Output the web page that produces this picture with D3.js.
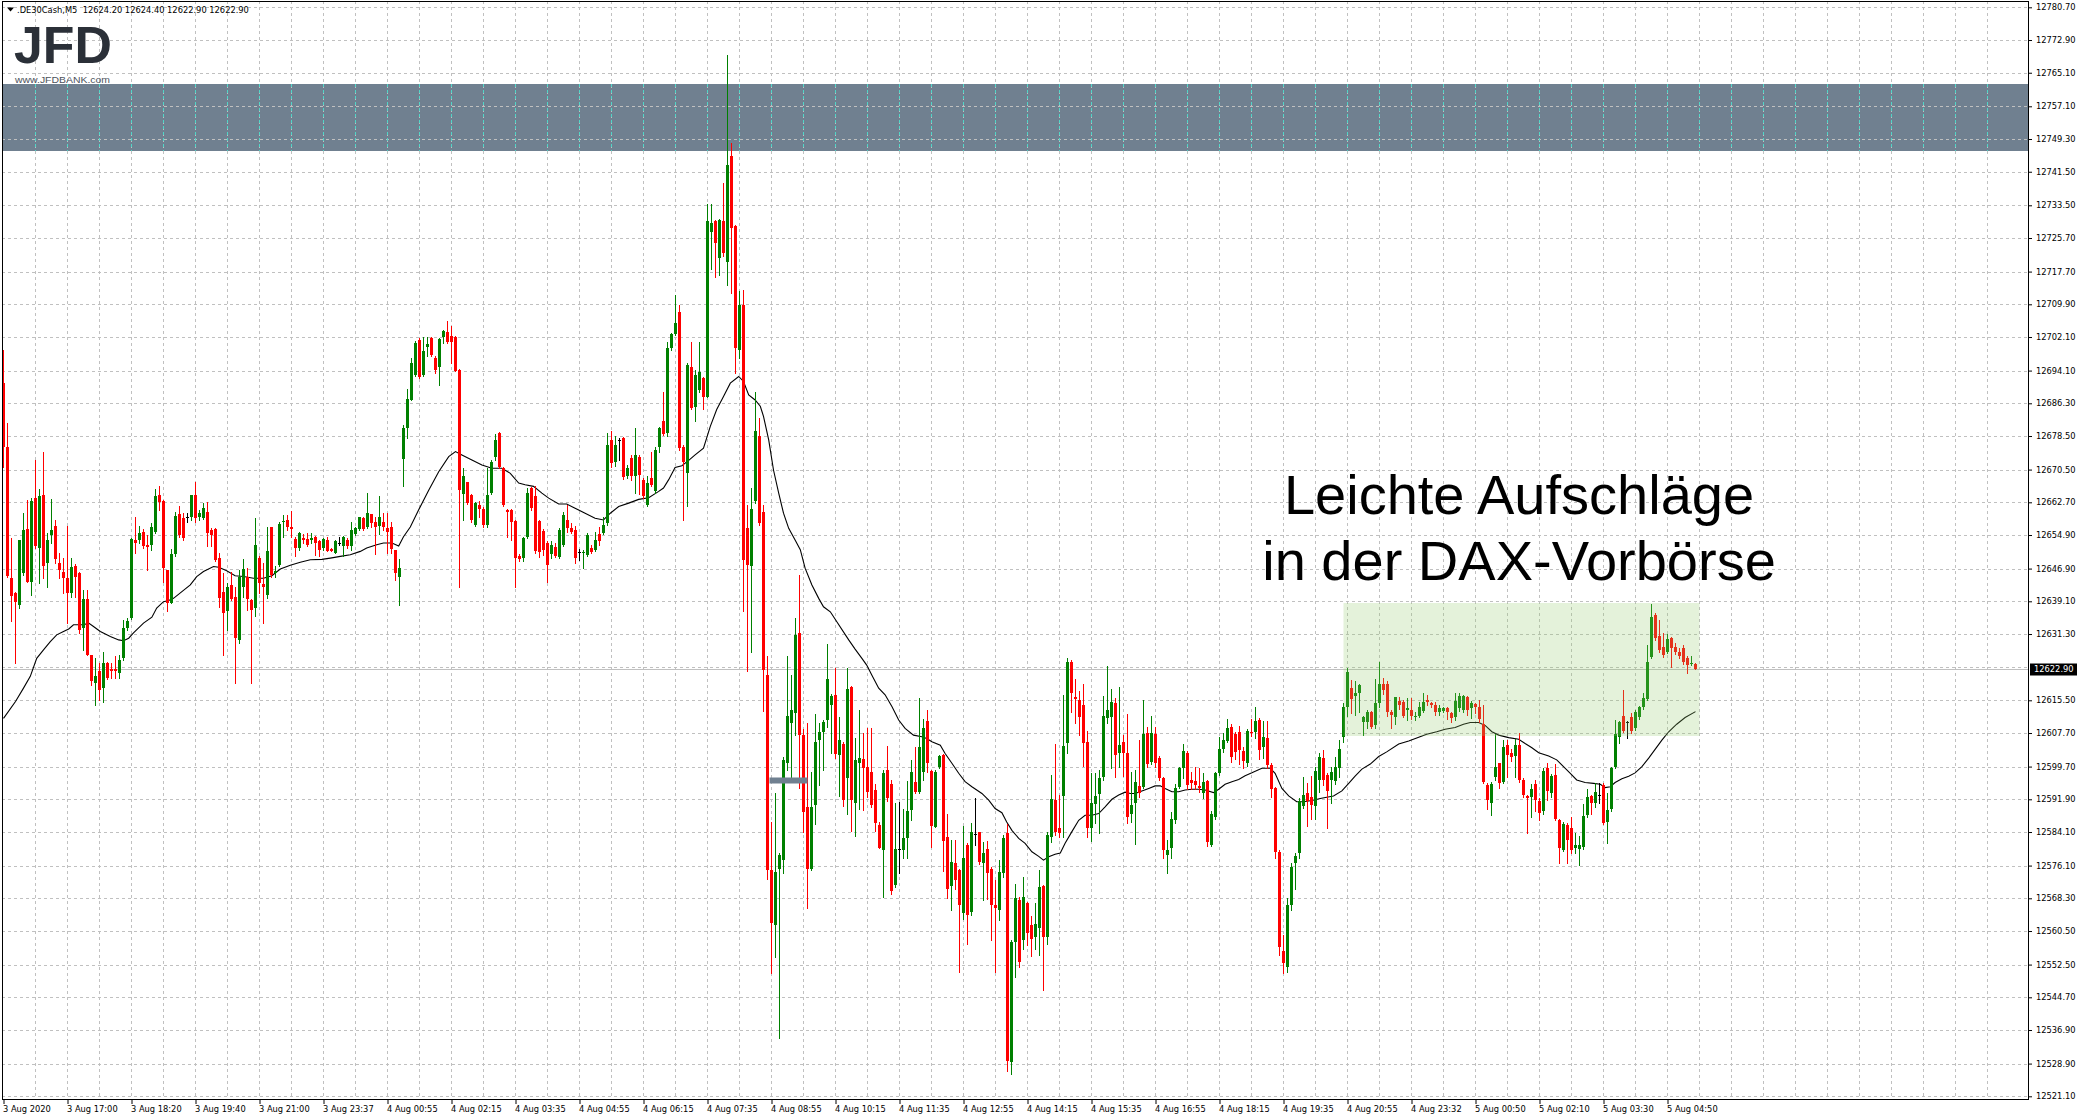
<!DOCTYPE html>
<html><head><meta charset="utf-8">
<script src="https://cdnjs.cloudflare.com/ajax/libs/d3/7.8.5/d3.min.js"></script>
<style>
html,body{margin:0;padding:0;background:#fff;overflow:hidden;}
svg{display:block;}
.small{font-family:'DejaVu Sans',Verdana,sans-serif;font-size:8.3px;fill:#000;}
</style></head><body>
<svg id="chart" width="2079" height="1120"></svg>
<script>
// ---------------- DATA ----------------
const symbolName = ".DE30Cash,M5";
const lastQuote = ["12624.20","12624.40","12622.90","12622.90"];

const open = [
12691.1,12676.0,12644.6,12641.0,12638.2,12645.8,12656.4,12643.8,12663.7,12651.8,
12664.5,12648.2,12654.9,12657.1,12648.2,12646.2,12644.6,12641.0,12647.6,12645.8,
12632.7,12639.6,12626.3,12619.6,12622.4,12618.4,12624.5,12622.9,12622.9,12622.1,
12625.5,12632.7,12635.1,12653.6,12653.8,12655.7,12652.5,12652.5,12655.7,12664.4,
12662.9,12646.6,12638.8,12650.4,12659.9,12658.9,12659.3,12659.2,12664.5,12659.2,
12658.9,12660.5,12656.1,12656.3,12649.4,12641.4,12636.7,12643.0,12640.2,12629.9,
12642.5,12645.0,12639.4,12637.5,12649.4,12643.3,12640.6,12656.8,12645.9,12647.8,
12657.9,12658.5,12656.8,12654.0,12651.8,12654.1,12653.9,12653.6,12654.5,12653.4,
12651.8,12653.6,12651.5,12650.7,12653.1,12652.4,12653.8,12652.2,12655.2,12656.3,
12658.9,12656.9,12660.0,12658.1,12657.1,12657.9,12656.5,12656.8,12651.4,12644.8,
12673.0,12680.4,12687.1,12693.1,12701.5,12693.1,12699.7,12701.9,12697.1,12694.9,
12702.0,12703.2,12702.4,12702.2,12694.3,12664.7,12667.5,12664.5,12657.3,12662.1,
12661.1,12657.3,12665.0,12673.6,12679.3,12670.8,12660.9,12660.9,12658.3,12650.0,
12649.4,12654.5,12666.1,12664.1,12658.3,12655.9,12653.0,12650.4,12652.1,12649.6,
12652.5,12658.5,12656.5,12656.1,12650.9,12650.5,12650.2,12651.7,12651.4,12655.1,
12655.3,12657.7,12677.6,12672.4,12677.6,12678.0,12668.9,12673.2,12668.9,12673.6,
12668.1,12662.1,12668.5,12665.3,12675.9,12682.0,12679.2,12699.4,12702.9,12708.0,
12676.0,12669.6,12694.9,12685.5,12689.5,12692.3,12687.9,12727.1,12729.7,12720.9,
12729.7,12720.1,12745.2,12728.5,12699.1,12709.8,12656.5,12647.4,12662.9,12678.6,
12660.5,12621.5,12575.0,12561.9,12575.4,12577.4,12600.5,12610.0,12612.4,12631.5,
12607.2,12590.1,12575.4,12590.5,12606.0,12608.0,12610.8,12614.4,12616.8,12602.4,
12605.1,12596.9,12618.6,12590.9,12600.5,12601.4,12599.5,12598.3,12594.1,12585.7,
12579.9,12598.9,12595.5,12571.4,12580.0,12579.9,12582.6,12589.3,12596.1,12593.7,
12598.5,12610.6,12598.7,12585.3,12599.5,12602.4,12582.8,12571.2,12576.6,12575.0,
12564.7,12581.0,12565.1,12583.6,12584.0,12576.6,12580.0,12575.4,12566.7,12565.6,
12574.4,12583.8,12529.3,12557.9,12568.0,12558.3,12567.2,12561.9,12559.0,12561.3,
12571.2,12559.0,12583.0,12591.7,12585.0,12592.7,12605.4,12624.7,12616.3,12615.6,
12614.4,12605.6,12585.0,12590.8,12593.1,12597.1,12611.2,12611.6,12614.9,12602.9,
12605.6,12602.9,12588.5,12591.1,12595.1,12594.9,12607.6,12600.9,12607.5,12601.7,
12596.9,12578.6,12580.4,12586.9,12594.9,12599.3,12603.0,12596.5,12596.3,12595.1,
12593.5,12596.3,12581.0,12587.7,12598.2,12603.8,12605.9,12609.2,12607.5,12608.0,
12603.5,12600.5,12608.0,12608.0,12610.9,12604.4,12606.6,12600.1,12594.5,12579.4,
12555.8,12552.0,12566.7,12576.6,12579.0,12590.3,12593.3,12592.4,12590.3,12596.6,
12601.7,12597.7,12596.5,12596.3,12599.3,12606.8,12613.8,12618.4,12616.5,12617.2,
12610.4,12610.4,12612.6,12609.6,12614.8,12619.5,12619.4,12612.6,12611.4,12615.4,
12615.2,12613.2,12613.3,12611.4,12611.8,12613.0,12615.6,12614.8,12614.4,12612.8,
12613.0,12613.6,12612.4,12611.4,12613.6,12613.2,12616.2,12613.6,12614.6,12614.0,
12609.8,12595.3,12591.1,12597.1,12600.5,12596.1,12604.8,12603.0,12602.2,12604.8,
12596.6,12592.7,12592.5,12595.5,12591.6,12589.2,12599.3,12593.3,12597.7,12586.9,
12579.9,12585.8,12585.0,12580.2,12580.0,12580.6,12588.1,12592.7,12591.1,12592.9,
12595.3,12586.5,12589.5,12599.7,12606.8,12611.8,12610.4,12611.4,12608.8,12611.4,
12613.8,12615.7,12625.9,12635.9,12630.8,12628.3,12627.1,12630.3,12628.3,12626.9,
12627.9,12625.7,12624.2,12624.2];

const high = [
12699.1,12681.6,12654.1,12641.4,12653.6,12660.1,12663.3,12663.7,12672.7,12665.9,
12674.8,12655.3,12663.5,12658.5,12650.7,12649.4,12657.1,12649.4,12648.0,12646.0,
12641.8,12641.8,12626.3,12625.5,12624.3,12627.1,12624.7,12624.3,12626.1,12626.3,
12634.7,12635.1,12654.1,12659.1,12657.1,12656.4,12654.9,12657.7,12665.9,12666.7,
12663.3,12646.6,12651.6,12660.5,12661.7,12660.1,12660.1,12664.5,12667.5,12660.9,
12662.5,12662.7,12656.5,12656.5,12650.6,12645.8,12643.4,12646.0,12642.6,12646.6,
12649.1,12647.0,12639.6,12658.9,12649.8,12648.2,12656.8,12656.9,12647.4,12657.9,
12659.7,12659.7,12660.7,12654.5,12655.7,12655.1,12655.3,12655.3,12654.7,12653.8,
12654.3,12654.4,12651.8,12653.8,12654.5,12654.7,12654.1,12658.1,12656.9,12659.3,
12659.3,12664.9,12660.0,12659.3,12664.3,12660.1,12660.1,12657.9,12651.4,12649.1,
12681.2,12689.7,12697.1,12701.1,12701.9,12702.2,12702.2,12702.0,12697.5,12701.9,
12703.8,12706.0,12704.8,12702.4,12694.5,12670.9,12667.6,12664.7,12662.7,12662.9,
12661.5,12670.9,12672.8,12678.9,12679.4,12671.2,12661.1,12661.1,12658.5,12650.4,
12654.5,12666.1,12666.4,12666.6,12658.5,12656.3,12653.5,12653.5,12653.0,12656.5,
12660.5,12662.1,12657.7,12657.0,12651.5,12651.3,12655.5,12652.5,12655.7,12656.9,
12659.3,12679.2,12679.6,12678.4,12678.0,12678.2,12671.6,12674.0,12680.4,12674.0,
12668.5,12668.9,12674.8,12676.0,12680.6,12689.1,12700.8,12703.0,12712.2,12709.8,
12676.4,12695.9,12700.8,12694.3,12700.8,12692.5,12733.7,12733.7,12730.1,12730.3,
12738.8,12769.4,12748.4,12728.9,12713.0,12713.4,12662.1,12666.1,12689.1,12682.8,
12662.1,12626.1,12586.5,12593.3,12579.1,12601.9,12626.1,12621.5,12635.0,12645.4,
12608.6,12610.2,12598.5,12612.2,12610.2,12610.9,12628.9,12617.0,12623.1,12611.6,
12605.5,12623.1,12619.0,12606.4,12613.2,12607.6,12608.8,12609.0,12595.5,12586.5,
12599.0,12604.6,12596.5,12591.1,12591.3,12589.5,12596.3,12601.3,12604.4,12616.0,
12611.0,12613.2,12599.0,12598.9,12602.5,12602.6,12588.5,12582.2,12582.2,12575.4,
12585.5,12581.4,12586.3,12592.1,12584.2,12581.8,12581.9,12575.8,12572.6,12577.4,
12583.5,12586.1,12558.3,12571.7,12568.5,12573.3,12567.5,12564.0,12567.1,12575.0,
12571.5,12584.2,12597.7,12605.1,12592.9,12616.8,12625.5,12625.0,12620.5,12617.6,
12619.5,12608.3,12598.2,12598.1,12598.9,12616.5,12623.7,12618.3,12616.0,12618.7,
12607.2,12612.2,12598.5,12598.9,12606.0,12615.6,12609.2,12611.7,12609.2,12602.2,
12597.3,12582.2,12588.9,12595.5,12599.7,12605.1,12603.3,12598.5,12599.7,12599.3,
12598.2,12596.5,12589.0,12598.5,12606.8,12607.8,12611.0,12609.8,12608.0,12609.4,
12604.4,12608.6,12611.0,12613.8,12611.2,12610.6,12610.6,12600.5,12594.9,12579.8,
12559.5,12568.3,12576.6,12579.0,12592.1,12597.1,12595.7,12597.4,12599.5,12603.0,
12603.6,12598.1,12599.5,12602.1,12606.0,12614.9,12623.1,12620.3,12620.0,12619.4,
12611.8,12613.2,12613.0,12620.5,12624.7,12620.7,12620.1,12613.2,12616.4,12616.2,
12615.5,12616.0,12616.0,12612.8,12615.2,12617.2,12616.8,12615.2,12615.0,12614.4,
12613.8,12614.0,12612.8,12617.2,12617.2,12616.8,12616.5,12615.4,12614.9,12615.6,
12614.4,12595.7,12596.1,12607.5,12600.6,12606.0,12606.0,12604.0,12606.2,12607.8,
12597.0,12593.0,12595.5,12596.5,12592.1,12599.3,12600.6,12597.9,12600.3,12587.3,
12586.5,12586.2,12587.6,12583.9,12583.1,12590.8,12594.3,12593.0,12595.8,12595.8,
12595.7,12593.3,12599.7,12610.8,12610.6,12617.9,12610.6,12612.4,12613.3,12614.1,
12617.3,12628.7,12638.5,12636.2,12634.7,12631.5,12631.3,12630.6,12629.1,12627.9,
12628.7,12626.1,12626.1,12624.4];

const low = [
12671.2,12645.0,12634.3,12624.5,12637.4,12645.4,12643.8,12640.6,12651.8,12643.4,
12644.6,12642.5,12652.9,12648.2,12644.6,12641.0,12633.9,12640.2,12640.2,12631.5,
12627.4,12626.3,12619.2,12614.4,12615.6,12615.2,12620.5,12620.7,12620.7,12620.7,
12625.1,12632.3,12634.8,12650.6,12653.0,12651.8,12646.6,12651.4,12655.3,12660.9,
12643.8,12636.9,12638.6,12649.8,12654.5,12653.8,12657.9,12658.5,12658.1,12658.5,
12658.7,12652.2,12652.2,12648.6,12637.8,12626.3,12632.3,12639.4,12619.6,12629.1,
12640.2,12637.1,12619.7,12635.5,12641.0,12634.0,12639.8,12645.0,12645.0,12647.4,
12654.5,12656.1,12654.5,12650.0,12651.4,12653.0,12652.2,12653.0,12650.2,12649.8,
12651.4,12651.0,12651.0,12650.6,12652.5,12650.0,12651.8,12651.4,12655.0,12656.1,
12656.1,12656.5,12656.8,12650.4,12655.2,12656.1,12650.6,12650.7,12644.2,12638.1,
12666.7,12678.0,12687.0,12692.7,12692.3,12692.9,12697.5,12697.5,12693.5,12690.7,
12700.7,12700.7,12695.9,12693.9,12642.6,12658.5,12662.3,12658.1,12657.0,12659.3,
12656.9,12656.8,12664.7,12672.8,12670.8,12661.9,12654.5,12653.7,12642.6,12648.8,
12648.6,12654.3,12660.9,12650.6,12649.6,12650.2,12643.8,12649.4,12649.6,12649.5,
12652.2,12655.7,12655.3,12648.2,12649.0,12647.0,12649.8,12650.5,12651.0,12652.5,
12655.1,12657.3,12671.2,12671.4,12672.8,12668.2,12668.5,12667.9,12664.9,12664.7,
12663.7,12661.9,12666.5,12664.9,12674.8,12678.8,12678.4,12699.1,12702.6,12675.2,
12658.5,12661.9,12684.9,12682.0,12689.1,12684.9,12687.8,12718.2,12716.4,12717.0,
12721.5,12714.6,12712.6,12693.5,12697.1,12636.9,12622.6,12626.9,12662.5,12657.3,
12613.0,12573.0,12550.5,12554.3,12534.9,12574.4,12598.9,12597.3,12607.2,12594.5,
12584.2,12565.9,12575.0,12586.1,12595.3,12598.9,12609.2,12603.0,12601.7,12592.7,
12590.3,12588.5,12584.4,12583.2,12589.7,12589.3,12592.5,12590.1,12584.4,12580.2,
12568.5,12591.5,12569.3,12571.0,12574.4,12578.0,12578.0,12586.9,12593.3,12593.5,
12596.5,12598.5,12580.6,12585.2,12599.3,12574.9,12568.3,12565.6,12570.6,12550.8,
12563.4,12557.5,12564.3,12581.0,12576.5,12567.9,12568.2,12558.3,12550.8,12563.1,
12573.3,12527.1,12526.5,12549.6,12552.0,12556.1,12557.1,12554.5,12556.3,12554.7,
12546.4,12557.4,12581.8,12583.4,12583.0,12583.0,12603.0,12612.6,12610.0,12607.2,
12599.8,12583.0,12582.0,12586.3,12583.9,12596.6,12610.0,12599.3,12597.1,12599.7,
12597.4,12586.3,12586.5,12581.2,12592.5,12594.5,12599.5,12600.3,12599.7,12596.6,
12577.8,12574.4,12577.8,12586.3,12594.5,12596.9,12594.3,12594.3,12594.3,12593.7,
12592.1,12580.7,12580.7,12587.3,12597.7,12603.2,12605.6,12600.9,12601.4,12600.4,
12599.3,12599.8,12607.0,12606.5,12601.4,12601.7,12599.3,12592.5,12578.0,12554.7,
12550.4,12550.8,12565.6,12570.4,12578.0,12589.8,12585.5,12587.1,12587.3,12593.7,
12595.2,12585.0,12590.9,12595.5,12597.3,12605.5,12611.8,12612.4,12612.0,12612.8,
12607.2,12609.0,12608.8,12609.0,12614.0,12617.0,12611.8,12608.8,12609.8,12613.5,
12611.6,12610.8,12611.0,12610.8,12611.4,12612.6,12614.4,12614.0,12612.0,12612.0,
12612.6,12611.0,12610.4,12610.8,12613.0,12612.8,12612.0,12611.2,12612.4,12610.4,
12595.7,12589.5,12588.1,12596.6,12594.7,12595.7,12597.1,12601.0,12597.1,12596.0,
12592.5,12583.8,12587.6,12589.2,12586.9,12588.4,12591.7,12592.5,12586.9,12576.8,
12579.6,12576.6,12579.1,12579.1,12576.2,12580.0,12587.6,12588.4,12590.0,12591.0,
12586.0,12581.4,12589.0,12599.3,12605.4,12608.0,12606.4,12607.8,12608.4,12611.0,
12613.4,12615.6,12625.5,12629.9,12627.0,12625.8,12626.7,12623.4,12626.5,12625.7,
12624.1,12621.9,12623.8,12622.9];

const close = [
12676.0,12645.2,12640.4,12639.0,12653.6,12656.1,12643.8,12662.9,12652.3,12664.1,
12647.4,12653.6,12656.1,12649.2,12646.6,12644.6,12641.0,12647.2,12645.0,12632.3,
12639.6,12626.3,12620.2,12621.2,12618.0,12624.5,12620.7,12622.4,12622.4,12625.1,
12632.7,12634.5,12653.9,12653.1,12655.5,12652.3,12652.0,12656.9,12664.1,12662.7,
12647.0,12638.8,12650.4,12659.5,12654.9,12654.1,12659.3,12664.5,12658.9,12660.1,
12661.3,12655.3,12654.9,12649.0,12639.8,12636.4,12642.6,12639.6,12630.3,12645.0,
12646.8,12639.6,12637.1,12652.6,12643.4,12642.5,12651.2,12645.4,12646.4,12657.6,
12658.3,12656.9,12656.3,12651.8,12655.3,12653.8,12652.5,12654.1,12653.0,12651.4,
12653.9,12651.2,12651.2,12653.4,12653.1,12654.4,12652.2,12656.0,12656.5,12659.2,
12656.4,12660.1,12657.7,12656.9,12659.2,12656.9,12655.7,12651.5,12645.8,12647.1,
12680.4,12687.4,12695.9,12700.7,12692.5,12698.7,12700.5,12697.9,12694.3,12701.7,
12703.6,12701.0,12700.8,12694.0,12665.7,12668.9,12662.5,12658.5,12662.5,12661.1,
12657.3,12664.5,12672.4,12677.6,12671.2,12662.1,12660.3,12657.9,12649.4,12649.3,
12654.1,12664.9,12661.3,12651.0,12650.9,12651.4,12647.8,12652.5,12649.8,12656.1,
12659.7,12656.5,12655.7,12649.4,12650.9,12650.9,12654.8,12650.9,12653.8,12653.4,
12657.3,12676.4,12672.0,12676.4,12677.6,12668.7,12670.9,12668.9,12674.0,12669.3,
12664.1,12667.3,12666.9,12675.2,12680.4,12679.0,12699.4,12702.9,12705.4,12675.6,
12672.4,12695.5,12685.2,12693.1,12693.7,12687.8,12729.7,12729.3,12724.4,12730.1,
12722.1,12743.2,12728.1,12699.5,12709.8,12649.0,12647.8,12661.0,12679.6,12657.7,
12622.7,12575.0,12562.5,12574.6,12578.6,12601.3,12611.7,12613.3,12631.1,12607.2,
12588.9,12575.4,12590.1,12605.6,12608.0,12610.4,12620.5,12616.5,12602.7,12606.0,
12591.7,12618.1,12591.7,12601.3,12601.7,12599.3,12593.7,12590.5,12586.3,12580.3,
12598.2,12592.3,12570.1,12580.0,12580.0,12582.6,12589.2,12598.5,12593.7,12604.4,
12609.0,12600.5,12585.5,12598.5,12602.2,12582.0,12570.6,12577.0,12572.6,12566.7,
12577.8,12564.3,12584.2,12583.6,12577.0,12579.0,12574.4,12566.7,12565.9,12574.6,
12582.6,12529.5,12557.9,12568.3,12553.1,12568.5,12560.1,12558.5,12562.1,12571.0,
12559.0,12583.4,12591.9,12584.2,12583.9,12604.6,12624.7,12617.3,12615.7,12611.6,
12605.4,12585.0,12591.1,12592.7,12597.0,12611.7,12613.2,12615.2,12602.4,12604.8,
12602.9,12587.6,12590.5,12596.1,12593.5,12607.5,12600.3,12607.6,12600.5,12596.9,
12579.8,12579.9,12587.3,12594.5,12599.3,12603.5,12595.3,12595.8,12595.3,12594.5,
12596.1,12581.8,12588.4,12598.2,12603.8,12606.0,12608.8,12602.0,12603.2,12603.6,
12601.1,12608.3,12607.6,12610.6,12603.6,12606.8,12600.1,12594.3,12579.4,12556.7,
12552.8,12566.7,12575.8,12578.4,12591.6,12592.9,12591.6,12590.5,12598.7,12602.1,
12596.6,12593.9,12598.5,12599.5,12604.0,12614.0,12622.3,12615.7,12617.2,12619.2,
12611.4,12612.8,12609.2,12614.8,12619.4,12618.0,12612.6,12612.0,12616.2,12614.4,
12611.8,12613.6,12611.8,12611.8,12614.0,12615.2,12615.0,12614.4,12612.6,12613.6,
12613.6,12612.6,12611.2,12615.4,12616.5,12616.5,12613.3,12614.8,12613.8,12611.0,
12596.1,12591.7,12595.5,12599.7,12595.9,12604.4,12602.4,12601.9,12604.8,12596.6,
12592.9,12592.1,12594.3,12591.7,12588.7,12598.7,12593.9,12597.4,12587.3,12580.4,
12586.0,12582.3,12579.9,12581.0,12581.0,12587.9,12592.4,12591.1,12593.7,12592.9,
12586.3,12589.3,12599.3,12607.5,12610.4,12608.3,12610.4,12608.3,12612.6,12613.8,
12616.0,12624.7,12635.3,12630.3,12627.5,12626.3,12630.0,12627.9,12626.9,12626.1,
12624.7,12623.9,12624.5,12622.9];

// moving average at these bar positions
const maBar = [0,3,5,6.7,8.3,10,11.7,13.3,15,16.3,17.5,20,21.3,22.5,24.2,26.7,28.8,30,31.3,32.5,
35,37.1,38.3,40,41.3,42.5,44.6,46.7,48.3,50,52.5,53.8,55.8,57.9,60,62.5,65,67.1,69.2,71.7,
74.2,76.7,79.6,81.7,84.2,86.7,89.2,90.8,93.3,95,97.1,98.8,100,101.7,103.8,106.3,108.8,111.3,113,114.6,
117.1,119.6,122.1,124.6,126.7,128.8,130.4,132.5,134.6,136.3,138.8,140.8,142.9,145.4,147.9,150,151.7,153.8,156.3,158.8,
161.3,163.8,165,166.3,167.9,169.6,171.3,172.9,175,176.7,178.3,180,181.7,183.8,185,186.3,187.9,189.2,190,191.3,
192.5,193.8,195,196.3,197.9,199.2,200.4,202.1,203.8,205,206.7,211.3,212.9,214.6,215.8,217.1,218.8,220.4,222.1,223.8,
225.4,227.5,229.6,230.8,232.1,234.2,235.4,237.1,238.8,240.4,242.1,244.6,246.3,247.9,249.6,250.8,252.1,253.8,255.4,257.1,
258.8,260,261.3,262.9,264.2,265.4,267.1,268.8,270.4,272.1,273.8,275.4,277.1,278.8,280.4,281.7,282.9,284.6,286.3,287.9,
289.2,290.4,292.1,293.8,295.4,297.1,298.8,300.4,302.5,303.8,305.4,307.1,308.8,310.4,312.1,314.6,316.7,317.9,319.6,321.3,
323.3,325,327.1,329.2,330.8,332.5,334.6,336.3,337.9,339.6,341.7,343.8,345.8,348.8,351.3,353.8,355.8,358.3,360.4,362.9,
365,366.7,368.8,370.4,372.1,373.8,376.3,378.8,380.4,382.1,383.8,386.3,388.3,390,391.7,393.3,395.4,397.5,399.2,400.4,
401.7,402.9,404.6,406.3,407.9,409.6,411.3,412.9,414.6,416.3,418.3,420.4,423];
const maVal = [12611.2,12615.2,12618.4,12621.2,12625.5,12627.5,12629.5,12631.1,12631.9,12632.5,12633.5,12633.5,12633.9,12633.1,12631.9,12630.7,12629.9,12629.7,12630.3,12631.6,
12633.9,12635.3,12637.5,12639.0,12639.3,12639.8,12641.4,12643.0,12645.0,12646.2,12647.4,12647.2,12646.4,12645.2,12645.0,12644.6,12644.6,12645.2,12646.8,12647.7,
12648.4,12649.0,12649.1,12649.4,12649.8,12650.2,12651.0,12651.8,12652.6,12653.0,12653.0,12652.3,12654.5,12656.8,12660.9,12665.6,12670.0,12673.6,12674.8,12674.0,
12672.8,12671.6,12670.8,12670.8,12669.6,12667.3,12666.9,12666.5,12664.9,12663.7,12662.3,12662.3,12661.3,12660.1,12658.9,12658.5,12660.1,12661.7,12662.5,12663.4,
12663.8,12665.3,12666.1,12668.1,12671.0,12671.4,12672.7,12674.0,12675.6,12680.8,12684.8,12687.9,12691.1,12692.7,12691.5,12688.3,12687.1,12685.6,12683.2,12677.6,
12670.4,12664.9,12660.1,12656.5,12653.7,12651.4,12647.0,12643.0,12639.8,12637.8,12636.6,12629.9,12627.7,12625.5,12623.9,12621.5,12618.4,12616.8,12614.0,12610.8,
12608.8,12607.2,12606.8,12606.4,12605.6,12604.8,12602.8,12600.5,12598.1,12596.1,12594.9,12593.3,12591.7,12589.7,12588.7,12586.5,12584.5,12582.6,12581.4,12579.4,
12578.3,12577.4,12578.2,12578.8,12579.1,12581.4,12584.2,12586.9,12588.1,12588.1,12588.5,12590.1,12591.9,12592.9,12593.6,12593.3,12593.3,12593.9,12594.5,12595.1,
12595.1,12594.5,12593.7,12593.7,12594.1,12594.3,12594.3,12594.1,12593.5,12594.3,12595.5,12596.1,12596.6,12597.5,12598.2,12599.3,12599.3,12598.1,12594.5,12592.7,
12591.3,12591.3,12591.6,12592.1,12592.4,12592.7,12593.9,12595.7,12597.4,12599.1,12600.3,12602.1,12603.2,12605.1,12605.8,12606.7,12607.4,12608.0,12608.6,12609.0,
12609.8,12610.2,12610.2,12609.5,12608.0,12607.2,12606.6,12606.2,12605.2,12604.2,12603.0,12602.2,12601.3,12599.7,12598.1,12596.5,12595.9,12595.7,12595.5,12594.7,
12594.9,12595.9,12596.8,12597.4,12598.2,12599.7,12601.7,12603.8,12606.0,12608.0,12609.8,12611.4,12612.8];

const timeLabels = ["3 Aug 2020","3 Aug 17:00","3 Aug 18:20","3 Aug 19:40","3 Aug 21:00","3 Aug 23:37",
"4 Aug 00:55","4 Aug 02:15","4 Aug 03:35","4 Aug 04:55","4 Aug 06:15","4 Aug 07:35","4 Aug 08:55",
"4 Aug 10:15","4 Aug 11:35","4 Aug 12:55","4 Aug 14:15","4 Aug 15:35","4 Aug 16:55","4 Aug 18:15",
"4 Aug 19:35","4 Aug 20:55","4 Aug 23:32","5 Aug 00:50","5 Aug 02:10","5 Aug 03:30","5 Aug 04:50"];
const barsPerTimeLabel = 16;

const priceTicks = [12780.70,12772.90,12765.10,12757.10,12749.30,12741.50,12733.50,12725.70,12717.70,
12709.90,12702.10,12694.10,12686.30,12678.50,12670.50,12662.70,12654.90,12646.90,12639.10,12631.30,
12623.40,12615.50,12607.70,12599.70,12591.90,12584.10,12576.10,12568.30,12560.50,12552.50,12544.70,
12536.90,12528.90,12521.10];
const currentPrice = 12622.90;

const resistanceZone = [12746.4, 12762.5];          // price range of the slate band
const premarketBox = [335, 424, 12607.0, 12638.8];  // bar from, bar to, low, high
const markLevel = [191.5, 201, 12596.4];            // bar from, bar to, price
const title = ["Leichte Aufschläge", "in der DAX-Vorbörse"];

// ---------------- DRAW ----------------
const W = 2079, H = 1120;
const L = 2, R = 2028, T = 1, B = 1099;
const svg = d3.select('#chart');
const x = d3.scaleLinear().domain([0, 423]).range([3.5, 1695.5]);
const y = d3.scaleLinear().domain([12521.10, 12780.70]).range([1096.3, 7.3]);
const py = v => Math.round(y(v));

svg.append('rect').attr('width', W).attr('height', H).attr('fill', '#fff');

const plot = svg.append('g');
const grey = '#c0c0c0';

// slate resistance band
const bandTop = py(resistanceZone[1]), bandBot = py(resistanceZone[0]);
plot.append('rect').attr('x', L).attr('y', bandTop).attr('width', R - L).attr('height', bandBot - bandTop)
  .attr('fill', '#708090');

// grid
const gridG = plot.append('g').attr('shape-rendering', 'crispEdges');
gridG.selectAll('line.h').data(priceTicks).join('line')
  .attr('x1', L).attr('x2', R).attr('y1', d => py(d) + 0.5).attr('y2', d => py(d) + 0.5)
  .attr('stroke', grey).attr('stroke-dasharray', '3,3');
const vBars = d3.range(8, 500, 8).filter(b => x(b) < R);
gridG.selectAll('line.v').data(vBars).join('line')
  .attr('x1', d => x(d)).attr('x2', d => x(d)).attr('y1', T).attr('y2', B)
  .attr('stroke', grey).attr('stroke-dasharray', '3,3');
gridG.selectAll('line.vb').data(vBars).join('line')
  .attr('x1', d => x(d)).attr('x2', d => x(d)).attr('y1', bandTop).attr('y2', bandBot)
  .attr('stroke', '#4fd6c8').attr('stroke-dasharray', '3,3');

// current price line
plot.append('line').attr('x1', L).attr('x2', R)
  .attr('y1', py(currentPrice) + 0.5).attr('y2', py(currentPrice) + 0.5)
  .attr('stroke', grey).attr('shape-rendering', 'crispEdges');

// moving average
const maPts = maBar.map((b, i) => [b, maVal[i]]);
plot.append('path').datum(maPts)
  .attr('d', d3.line().x(d => x(d[0])).y(d => y(d[1])))
  .attr('fill', 'none').attr('stroke', '#000').attr('stroke-width', 1.1);

// candles
const bars = open.map((o, i) => ({i, o, h: high[i], l: low[i], c: close[i]}));
const colorOf = d => Math.abs(d.c - d.o) < 0.05 ? '#000' : (d.c > d.o ? '#008000' : '#ff0000');
const cg = plot.append('g').attr('shape-rendering', 'crispEdges');
cg.selectAll('line').data(bars).join('line')
  .attr('x1', d => x(d.i)).attr('x2', d => x(d.i))
  .attr('y1', d => py(Math.max(d.h, d.o, d.c)))
  .attr('y2', d => py(Math.min(d.l, d.o, d.c)) + 1)
  .attr('stroke', colorOf);
cg.selectAll('rect').data(bars).join('rect')
  .attr('x', d => x(d.i) - 1.5).attr('width', 3)
  .attr('y', d => py(Math.max(d.o, d.c)))
  .attr('height', d => Math.max(1, py(Math.min(d.o, d.c)) - py(Math.max(d.o, d.c))))
  .attr('fill', colorOf);

// light green pre-market box (translucent, over the candles)
plot.append('rect')
  .attr('x', x(premarketBox[0])).attr('width', x(premarketBox[1]) - x(premarketBox[0]))
  .attr('y', py(premarketBox[3])).attr('height', py(premarketBox[2]) - py(premarketBox[3]))
  .attr('fill', 'rgb(147,203,107)').attr('fill-opacity', 0.25);

// slate marker segment
plot.append('line')
  .attr('x1', x(markLevel[0])).attr('x2', x(markLevel[1]))
  .attr('y1', y(markLevel[2])).attr('y2', y(markLevel[2]))
  .attr('stroke', '#708090').attr('stroke-width', 6);

// frame
const frame = svg.append('g').attr('shape-rendering', 'crispEdges').attr('stroke', '#000');
frame.append('line').attr('x1', L + 0.5).attr('x2', L + 0.5).attr('y1', T).attr('y2', B + 1);
frame.append('line').attr('x1', L).attr('x2', R + 1).attr('y1', T + 0.5).attr('y2', T + 0.5);
frame.append('line').attr('x1', R + 0.5).attr('x2', R + 0.5).attr('y1', T).attr('y2', B + 1);
frame.append('line').attr('x1', L).attr('x2', R + 1).attr('y1', B + 0.5).attr('y2', B + 0.5);

// right price axis
const labelTicks = priceTicks.filter(v => Math.abs(y(v) - y(currentPrice)) > 8);
const ay = svg.append('g').attr('transform', `translate(${R + 1},0)`)
  .call(d3.axisRight(y).tickValues(labelTicks).tickSize(3).tickPadding(4).tickFormat(d => d.toFixed(2)));
ay.select('.domain').remove();
ay.selectAll('.tick line').attr('stroke', '#000');
ay.attr('font-size', null).attr('font-family', null);
ay.selectAll('text').attr('class', 'small');

// current price tag
const cpy = py(currentPrice) + 0.5;
svg.append('rect').attr('x', R + 2).attr('y', cpy - 6).attr('width', 47).attr('height', 12).attr('fill', '#000');
svg.append('text').attr('class', 'small').attr('x', R + 6).attr('y', cpy).attr('dy', '0.35em')
  .style('fill', '#fff').text(currentPrice.toFixed(2));

// bottom time axis
const tBars = timeLabels.map((_, k) => k * barsPerTimeLabel);
const ax = svg.append('g').attr('transform', `translate(0,${B + 1})`)
  .call(d3.axisBottom(x).tickValues(tBars).tickSize(4).tickPadding(2).tickFormat((d, k) => timeLabels[k]));
ax.select('.domain').remove();
ax.selectAll('.tick line').attr('stroke', '#000');
ax.attr('font-size', null).attr('font-family', null);
ax.selectAll('text').attr('class', 'small').attr('text-anchor', 'start').attr('x', -1);

// header
svg.append('path').attr('d', 'M7,7.5 L14,7.5 L10.5,11.5 Z').attr('fill', '#000');
svg.append('text').attr('class', 'small').attr('x', 17).attr('y', 13)
  .attr('xml:space', 'preserve').style('white-space', 'pre')
  .text(symbolName + '  ' + lastQuote.join(' '));

// logo (sized so its text box sits between the header line and the web address)
svg.append('text').attr('x', 14).attr('y', 62.5)
  .attr('font-family', "'Liberation Sans',Arial,sans-serif").attr('font-weight', 'bold')
  .attr('font-size', 51).attr('fill', '#2b3038')
  .attr('textLength', 98).attr('lengthAdjust', 'spacingAndGlyphs').text('JFD');
svg.append('text').attr('x', 15).attr('y', 82.5)
  .attr('font-family', "'Liberation Sans',Arial,sans-serif").attr('font-size', 9.5)
  .attr('fill', '#4d535b').attr('textLength', 95).attr('lengthAdjust', 'spacingAndGlyphs')
  .text('www.JFDBANK.com');

// annotation
svg.append('g').selectAll('text').data(title).join('text')
  .attr('x', 1519).attr('y', (d, k) => 514 + k * 66)
  .attr('text-anchor', 'middle')
  .attr('font-family', "'Liberation Sans',Arial,sans-serif").attr('font-size', 56).attr('fill', '#000')
  .text(d => d);
</script>
</body></html>
